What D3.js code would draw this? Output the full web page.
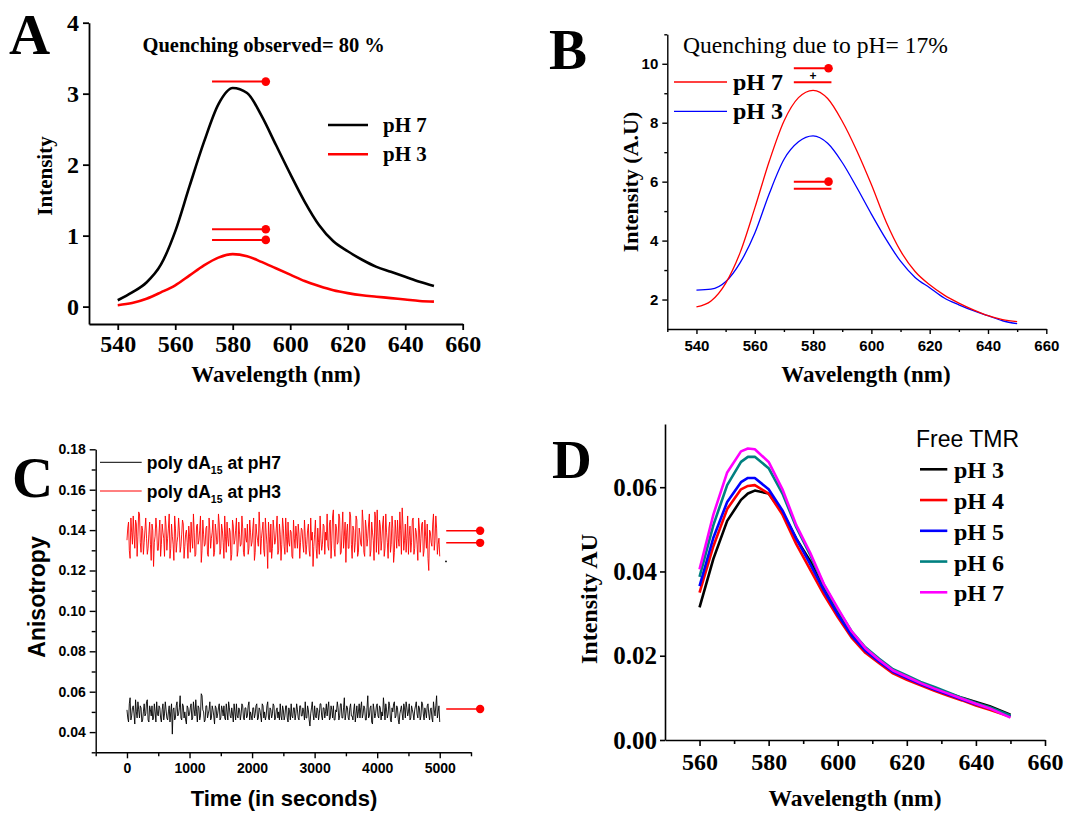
<!DOCTYPE html>
<html><head><meta charset="utf-8">
<script src="https://cdn.jsdelivr.net/npm/d3@7"></script>
<style>body{margin:0;background:#fff}svg{display:block}</style>
</head><body><svg id="c" width="1079" height="813"></svg>
<script>
// ---------- Panel A ----------
const wlA = [540,545,550,555,560,565,570,575,580,585,590,595,600,605,610,615,620,625,630,635,640,645,650];
const aPH7 = [0.09,0.20,0.34,0.59,1.06,1.70,2.32,2.85,3.08,3.01,2.69,2.28,1.87,1.48,1.15,0.92,0.78,0.66,0.56,0.49,0.42,0.35,0.29];
const aPH3 = [0.02,0.05,0.11,0.20,0.30,0.44,0.58,0.69,0.74,0.71,0.63,0.54,0.45,0.36,0.29,0.23,0.19,0.16,0.14,0.12,0.10,0.08,0.07];
const aXTicks = [540,560,580,600,620,640,660];
const aYTicks = [0,1,2,3,4];
const aMarkLevels = [3.17,1.09,0.94];
const aMarkRange = [572.8,591.5];

// ---------- Panel B ----------
const wlB = [540,545,550,555,560,565,570,575,580,585,590,595,600,605,610,615,620,625,630,635,640,645,650];
const bPH7 = [1.75,1.95,2.55,3.60,5.10,6.70,8.05,8.85,9.10,8.82,8.05,7.05,5.90,4.65,3.65,2.95,2.50,2.15,1.88,1.65,1.45,1.32,1.25];
const bPH3 = [2.32,2.35,2.60,3.25,4.25,5.60,6.75,7.35,7.55,7.30,6.65,5.80,4.90,4.05,3.30,2.75,2.40,2.05,1.82,1.62,1.45,1.28,1.18];
const bXTicks = [540,560,580,600,620,640,660];
const bXMinor = [530,550,570,590,610,630,650];
const bYTicks = [2,4,6,8,10];
const bYMinor = [3,5,7,9,11];
const bDotLevels = [9.85,6.0];
const bLineLevels = [9.37,5.76];
const bMarkRange = [573.4,585.3,586.3];

// ---------- Panel C ----------
const tC = [0,25,50,75,100,125,150,175,200,225,250,275,300,325,350,375,400,425,450,475,
500,525,550,575,600,625,650,675,700,725,750,775,800,825,850,875,900,925,950,975,
1000,1025,1050,1075,1100,1125,1150,1175,1200,1225,1250,1275,1300,1325,1350,1375,1400,1425,1450,1475,
1500,1525,1550,1575,1600,1625,1650,1675,1700,1725,1750,1775,1800,1825,1850,1875,1900,1925,1950,1975,
2000,2025,2050,2075,2100,2125,2150,2175,2200,2225,2250,2275,2300,2325,2350,2375,2400,2425,2450,2475,
2500,2525,2550,2575,2600,2625,2650,2675,2700,2725,2750,2775,2800,2825,2850,2875,2900,2925,2950,2975,
3000,3025,3050,3075,3100,3125,3150,3175,3200,3225,3250,3275,3300,3325,3350,3375,3400,3425,3450,3475,
3500,3525,3550,3575,3600,3625,3650,3675,3700,3725,3750,3775,3800,3825,3850,3875,3900,3925,3950,3975,
4000,4025,4050,4075,4100,4125,4150,4175,4200,4225,4250,4275,4300,4325,4350,4375,4400,4425,4450,4475,
4500,4525,4550,4575,4600,4625,4650,4675,4700,4725,4750,4775,4800,4825,4850,4875,4900,4925,4950,4975,5000];
const cPH3 = [0.135,0.144,0.126,0.139,0.147,0.131,0.143,0.137,0.148,0.129,0.140,0.134,0.146,0.128,0.138,0.133,0.143,0.122,0.137,0.141,
0.130,0.145,0.133,0.139,0.127,0.142,0.136,0.148,0.131,0.137,0.125,0.141,0.134,0.146,0.129,0.138,0.143,0.132,0.140,0.126,
0.137,0.144,0.131,0.139,0.128,0.143,0.135,0.147,0.130,0.138,0.133,0.142,0.127,0.140,0.136,0.145,0.129,0.139,0.134,0.143,
0.131,0.140,0.126,0.137,0.144,0.132,0.139,0.128,0.142,0.135,0.146,0.130,0.138,0.133,0.141,0.127,0.136,0.143,0.131,0.139,
0.134,0.146,0.129,0.138,0.132,0.141,0.136,0.144,0.127,0.139,0.121,0.137,0.143,0.131,0.140,0.135,0.147,0.130,0.138,0.133,
0.141,0.128,0.137,0.144,0.132,0.139,0.126,0.136,0.142,0.131,0.138,0.134,0.140,0.129,0.137,0.133,0.143,0.127,0.135,0.122,
0.138,0.131,0.141,0.128,0.136,0.133,0.142,0.139,0.148,0.130,0.145,0.135,0.150,0.127,0.141,0.134,0.146,0.129,0.149,0.137,
0.124,0.143,0.131,0.147,0.126,0.140,0.134,0.145,0.129,0.138,0.132,0.144,0.127,0.141,0.136,0.148,0.130,0.139,0.125,0.146,
0.150,0.128,0.142,0.135,0.147,0.131,0.139,0.126,0.144,0.133,0.141,0.129,0.138,0.145,0.132,0.140,0.151,0.130,0.143,0.136,
0.128,0.142,0.134,0.146,0.131,0.139,0.125,0.141,0.136,0.144,0.130,0.137,0.143,0.120,0.139,0.132,0.148,0.135,0.141,0.133,0.127];
const cPH7 = [0.051,0.045,0.057,0.048,0.053,0.044,0.050,0.055,0.047,0.052,0.046,0.054,0.049,0.056,0.045,0.051,0.053,0.047,0.050,0.055,
0.048,0.052,0.045,0.054,0.049,0.051,0.046,0.053,0.050,0.039,0.052,0.047,0.055,0.049,0.058,0.046,0.053,0.050,0.044,0.052,
0.049,0.054,0.047,0.051,0.056,0.045,0.052,0.048,0.058,0.050,0.046,0.053,0.049,0.055,0.047,0.051,0.044,0.052,0.049,0.054,
0.047,0.051,0.053,0.046,0.050,0.055,0.048,0.052,0.045,0.050,0.054,0.047,0.051,0.049,0.053,0.046,0.052,0.048,0.055,0.050,
0.046,0.052,0.049,0.054,0.047,0.051,0.045,0.053,0.050,0.048,0.055,0.046,0.051,0.049,0.053,0.047,0.052,0.050,0.054,0.046,
0.051,0.048,0.053,0.045,0.050,0.054,0.047,0.052,0.049,0.051,0.046,0.053,0.048,0.050,0.055,0.047,0.051,0.043,0.052,0.049,
0.053,0.047,0.051,0.049,0.054,0.046,0.052,0.050,0.048,0.055,0.047,0.051,0.053,0.046,0.050,0.052,0.048,0.054,0.047,0.057,
0.049,0.052,0.046,0.054,0.048,0.051,0.045,0.053,0.050,0.047,0.055,0.049,0.052,0.046,0.058,0.048,0.053,0.044,0.051,0.049,
0.054,0.047,0.052,0.050,0.057,0.046,0.051,0.049,0.053,0.045,0.050,0.055,0.048,0.052,0.044,0.051,0.049,0.054,0.047,0.052,
0.050,0.046,0.053,0.049,0.051,0.055,0.047,0.052,0.048,0.054,0.046,0.050,0.053,0.049,0.051,0.047,0.055,0.048,0.058,0.050,0.045];
// intermediate readings (between the samples above)
const tC2 = [12.5,37.5,62.5,87.5,112.5,137.5,162.5,187.5,212.5,237.5,262.5,287.5,312.5,337.5,362.5,387.5,412.5,437.5,462.5,487.5,
512.5,537.5,562.5,587.5,612.5,637.5,662.5,687.5,712.5,737.5,762.5,787.5,812.5,837.5,862.5,887.5,912.5,937.5,962.5,987.5,
1012.5,1037.5,1062.5,1087.5,1112.5,1137.5,1162.5,1187.5,1212.5,1237.5,1262.5,1287.5,1312.5,1337.5,1362.5,1387.5,1412.5,1437.5,1462.5,1487.5,
1512.5,1537.5,1562.5,1587.5,1612.5,1637.5,1662.5,1687.5,1712.5,1737.5,1762.5,1787.5,1812.5,1837.5,1862.5,1887.5,1912.5,1937.5,1962.5,1987.5,
2012.5,2037.5,2062.5,2087.5,2112.5,2137.5,2162.5,2187.5,2212.5,2237.5,2262.5,2287.5,2312.5,2337.5,2362.5,2387.5,2412.5,2437.5,2462.5,2487.5,
2512.5,2537.5,2562.5,2587.5,2612.5,2637.5,2662.5,2687.5,2712.5,2737.5,2762.5,2787.5,2812.5,2837.5,2862.5,2887.5,2912.5,2937.5,2962.5,2987.5,
3012.5,3037.5,3062.5,3087.5,3112.5,3137.5,3162.5,3187.5,3212.5,3237.5,3262.5,3287.5,3312.5,3337.5,3362.5,3387.5,3412.5,3437.5,3462.5,3487.5,
3512.5,3537.5,3562.5,3587.5,3612.5,3637.5,3662.5,3687.5,3712.5,3737.5,3762.5,3787.5,3812.5,3837.5,3862.5,3887.5,3912.5,3937.5,3962.5,3987.5,
4012.5,4037.5,4062.5,4087.5,4112.5,4137.5,4162.5,4187.5,4212.5,4237.5,4262.5,4287.5,4312.5,4337.5,4362.5,4387.5,4412.5,4437.5,4462.5,4487.5,
4512.5,4537.5,4562.5,4587.5,4612.5,4637.5,4662.5,4687.5,4712.5,4737.5,4762.5,4787.5,4812.5,4837.5,4862.5,4887.5,4912.5,4937.5,4962.5,4987.5];
const cPH3b = [0.141,0.130,0.146,0.133,0.138,0.145,0.127,0.149,0.134,0.142,0.128,0.140,0.136,0.131,0.144,0.125,0.140,0.134,0.146,0.130,
0.139,0.127,0.143,0.136,0.147,0.130,0.141,0.126,0.143,0.133,0.147,0.129,0.137,0.140,0.132,0.145,0.126,0.138,0.134,0.142,
0.129,0.136,0.148,0.127,0.142,0.133,0.140,0.124,0.145,0.132,0.141,0.128,0.146,0.131,0.139,0.127,0.143,0.133,0.148,0.128,
0.143,0.134,0.147,0.129,0.136,0.141,0.125,0.145,0.133,0.140,0.127,0.144,0.132,0.147,0.129,0.141,0.134,0.128,0.145,0.132,
0.141,0.125,0.143,0.135,0.149,0.128,0.140,0.130,0.146,0.133,0.144,0.129,0.126,0.145,0.133,0.141,0.128,0.143,0.125,0.146,
0.132,0.146,0.129,0.134,0.140,0.127,0.145,0.131,0.137,0.143,0.126,0.141,0.133,0.145,0.128,0.140,0.130,0.146,0.139,0.132,
0.145,0.126,0.134,0.147,0.130,0.143,0.128,0.135,0.132,0.143,0.126,0.147,0.131,0.143,0.133,0.148,0.128,0.140,0.131,0.144,
0.139,0.131,0.149,0.133,0.142,0.129,0.147,0.127,0.141,0.133,0.150,0.129,0.145,0.132,0.143,0.127,0.144,0.135,0.149,0.129,
0.137,0.145,0.130,0.143,0.127,0.148,0.134,0.141,0.129,0.147,0.124,0.145,0.131,0.136,0.149,0.128,0.142,0.135,0.129,0.147,
0.137,0.129,0.145,0.128,0.141,0.133,0.146,0.129,0.143,0.127,0.145,0.131,0.126,0.140,0.134,0.143,0.130,0.147,0.128,0.136];
const cPH7b = [0.047,0.054,0.046,0.052,0.049,0.056,0.047,0.051,0.053,0.045,0.050,0.048,0.055,0.046,0.053,0.048,0.046,0.054,0.045,0.049,
0.053,0.047,0.051,0.046,0.055,0.047,0.050,0.045,0.054,0.051,0.046,0.053,0.048,0.052,0.047,0.054,0.047,0.046,0.053,0.048,
0.052,0.046,0.055,0.048,0.050,0.053,0.046,0.059,0.051,0.045,0.053,0.047,0.051,0.046,0.053,0.048,0.053,0.047,0.052,0.046,
0.053,0.048,0.047,0.054,0.046,0.052,0.047,0.049,0.054,0.046,0.048,0.052,0.046,0.054,0.047,0.052,0.047,0.053,0.046,0.048,
0.052,0.047,0.053,0.046,0.052,0.048,0.054,0.047,0.046,0.053,0.047,0.052,0.047,0.054,0.046,0.051,0.047,0.046,0.048,0.053,
0.046,0.053,0.047,0.052,0.046,0.048,0.052,0.046,0.054,0.047,0.053,0.048,0.052,0.046,0.047,0.053,0.046,0.049,0.055,0.046,
0.048,0.052,0.046,0.054,0.048,0.052,0.047,0.054,0.052,0.046,0.053,0.047,0.046,0.051,0.055,0.046,0.054,0.047,0.052,0.046,
0.053,0.047,0.052,0.048,0.046,0.054,0.049,0.047,0.054,0.052,0.047,0.053,0.046,0.052,0.047,0.052,0.045,0.054,0.047,0.053,
0.048,0.053,0.046,0.048,0.052,0.054,0.047,0.055,0.046,0.052,0.054,0.047,0.053,0.046,0.049,0.053,0.046,0.052,0.055,0.048,
0.054,0.047,0.051,0.046,0.053,0.049,0.053,0.046,0.055,0.049,0.052,0.047,0.054,0.046,0.052,0.045,0.051,0.053,0.047,0.053];
const cXTicks = [0,1000,2000,3000,4000,5000];
const cXMinor = [-500,500,1500,2500,3500,4500,5500];
const cYTicks = [0.04,0.06,0.08,0.10,0.12,0.14,0.16,0.18];
const cYMinor = [0.03,0.05,0.07,0.09,0.11,0.13,0.15,0.17];
const cMarkLevels = [0.1397,0.1337,0.0514];
const cMarkRange = [5104,5646];
const cStrayPoint = [5100,0.1245];

// ---------- Panel D ----------
const wlD = [560,564,568,572,574,576,580,584,588,592,596,600,604,608,612,616,620,624,628,632,636,640,644,650];
const dPH3 = [0.0315,0.0430,0.0520,0.0570,0.0585,0.0592,0.0585,0.0540,0.0478,0.0425,0.0358,0.0302,0.0252,0.0214,0.0188,0.0163,0.0148,0.0134,0.0123,0.0111,0.0100,0.0090,0.0080,0.0060];
const dPH4 = [0.0350,0.0460,0.0548,0.0595,0.0603,0.0605,0.0585,0.0535,0.0465,0.0405,0.0345,0.0292,0.0243,0.0207,0.0182,0.0158,0.0143,0.0130,0.0117,0.0105,0.0094,0.0082,0.0072,0.0055];
const dPH5 = [0.0365,0.0480,0.0565,0.0612,0.0622,0.0622,0.0595,0.0545,0.0478,0.0418,0.0355,0.0298,0.0248,0.0212,0.0186,0.0162,0.0147,0.0133,0.0120,0.0108,0.0096,0.0085,0.0075,0.0056];
const dPH6 = [0.0387,0.0510,0.0605,0.0660,0.0672,0.0672,0.0645,0.0585,0.0505,0.0440,0.0368,0.0310,0.0258,0.0220,0.0193,0.0168,0.0153,0.0138,0.0126,0.0113,0.0100,0.0088,0.0078,0.0058];
const dPH7 = [0.0405,0.0535,0.0635,0.0685,0.0692,0.0690,0.0660,0.0595,0.0510,0.0445,0.0370,0.0313,0.0258,0.0218,0.0190,0.0165,0.0150,0.0135,0.0122,0.0110,0.0098,0.0086,0.0075,0.0053];
const dNames = ["pH 3","pH 4","pH 5","pH 6","pH 7"];
const dColors = ["#000000","#ff0000","#0000ff","#008080","#ff00ff"];
const dXTicks = [560,580,600,620,640,660];
const dXMinor = [570,590,610,630,650];
const dYTicks = [0,0.02,0.04,0.06];

// ================= drawing =================
const svg = d3.select("#c");
const SERIF = "'Liberation Serif','Times New Roman',serif";
const SANS = "'Liberation Sans',Arial,sans-serif";

function styleAxis(g, font, size, weight, sw){
  g.select(".domain").attr("stroke","#000").attr("stroke-width",sw);
  g.selectAll(".tick line").attr("stroke","#000").attr("stroke-width",sw);
  g.selectAll(".tick text").attr("font-family",font).attr("font-size",size)
    .attr("font-weight",weight).attr("fill","#000");
}
function minor(g, axisGen, sw){
  g.call(axisGen); g.select(".domain").remove(); g.selectAll("text").remove();
  g.selectAll("line").attr("stroke","#000").attr("stroke-width",sw);
}
function txt(x,y,s,font,size,weight,anchor,rot){
  const t = svg.append("text").attr("x",x).attr("y",y).text(s)
    .attr("font-family",font).attr("font-size",size).attr("font-weight",weight||"normal")
    .attr("text-anchor",anchor||"start").attr("fill","#000");
  if(rot) t.attr("transform",`rotate(${rot},${x},${y})`);
  return t;
}

// ----- A -----
{
  const x = d3.scaleLinear().domain([530,660]).range([89,462.7]);
  const y = d3.scaleLinear().domain([-0.245,4]).range([324,22.7]);
  const gx = svg.append("g").attr("transform","translate(0,324)")
    .call(d3.axisBottom(x).tickValues(aXTicks).tickSize(6).tickSizeOuter(0).tickPadding(5).tickFormat(d3.format("d")));
  styleAxis(gx, SERIF, 24, "bold", 1.8);
  const gy = svg.append("g").attr("transform","translate(89,0)")
    .call(d3.axisLeft(y).tickValues(aYTicks).tickSize(6).tickSizeOuter(0).tickPadding(4).tickFormat(d3.format("d")));
  styleAxis(gy, SERIF, 24, "bold", 1.8);
  const line = d3.line().x((d,i)=>x(wlA[i])).y(d=>y(d)).curve(d3.curveMonotoneX);
  svg.append("path").attr("d",line(aPH3)).attr("fill","none").attr("stroke","#ff0000").attr("stroke-width",2.6);
  svg.append("path").attr("d",line(aPH7)).attr("fill","none").attr("stroke","#000").attr("stroke-width",2.6);
  aMarkLevels.forEach(v=>{
    svg.append("line").attr("x1",x(aMarkRange[0])).attr("x2",x(aMarkRange[1])).attr("y1",y(v)).attr("y2",y(v))
      .attr("stroke","#ff0000").attr("stroke-width",2);
    svg.append("circle").attr("cx",x(aMarkRange[1])).attr("cy",y(v)).attr("r",4.3).attr("fill","#ff0000");
  });
  [["pH 7","#000",125],["pH 3","#ff0000",154.3]].forEach(([n,c,yy])=>{
    svg.append("line").attr("x1",328).attr("x2",368).attr("y1",yy).attr("y2",yy).attr("stroke",c).attr("stroke-width",2.6);
    txt(383,yy+7,n,SERIF,21,"bold");
  });
  txt(142.5,52,"Quenching observed= 80 %",SERIF,20.5,"bold");
  txt(9,54,"A",SERIF,57,"bold");
  txt(52,176,"Intensity",SERIF,21,"bold","middle",-90);
  txt(276,382,"Wavelength (nm)",SERIF,23,"bold","middle");
}

// ----- B -----
{
  const x = d3.scaleLinear().domain([530,660]).range([667.3,1046.3]);
  const y = d3.scaleLinear().domain([1,11]).range([329,34.3]);
  const gx = svg.append("g").attr("transform","translate(0,329)")
    .call(d3.axisBottom(x).tickValues(bXTicks).tickSize(5).tickSizeOuter(0).tickPadding(6).tickFormat(d3.format("d")));
  styleAxis(gx, SANS, 15, "bold", 1.4);
  minor(svg.append("g").attr("transform","translate(0,329)"), d3.axisBottom(x).tickValues(bXMinor).tickSize(3), 1.4);
  const gy = svg.append("g").attr("transform","translate(667.3,0)")
    .call(d3.axisLeft(y).tickValues(bYTicks).tickSize(5).tickSizeOuter(0).tickPadding(4).tickFormat(d3.format("d")));
  styleAxis(gy, SANS, 15, "bold", 1.4);
  minor(svg.append("g").attr("transform","translate(667.3,0)"), d3.axisLeft(y).tickValues(bYMinor).tickSize(3), 1.4);
  const line = d3.line().x((d,i)=>x(wlB[i])).y(d=>y(d)).curve(d3.curveMonotoneX);
  svg.append("path").attr("d",line(bPH3)).attr("fill","none").attr("stroke","#0000ff").attr("stroke-width",1.3);
  svg.append("path").attr("d",line(bPH7)).attr("fill","none").attr("stroke","#ff0000").attr("stroke-width",1.3);
  bDotLevels.forEach(v=>{
    svg.append("line").attr("x1",x(bMarkRange[0])).attr("x2",x(bMarkRange[1])).attr("y1",y(v)).attr("y2",y(v))
      .attr("stroke","#ff0000").attr("stroke-width",2);
    svg.append("circle").attr("cx",x(bMarkRange[1])).attr("cy",y(v)).attr("r",4.3).attr("fill","#ff0000");
  });
  bLineLevels.forEach(v=>{
    svg.append("line").attr("x1",x(bMarkRange[0])).attr("x2",x(bMarkRange[2])).attr("y1",y(v)).attr("y2",y(v))
      .attr("stroke","#ff0000").attr("stroke-width",2);
  });
  txt(x(580),y(bLineLevels[0])-2,"+",SANS,12,"bold","middle");
  [["pH 7","#ff0000",82],["pH 3","#0000ff",111.3]].forEach(([n,c,yy])=>{
    svg.append("line").attr("x1",674).attr("x2",727).attr("y1",yy).attr("y2",yy).attr("stroke",c).attr("stroke-width",1.3);
    txt(733,yy+8,n,SERIF,24,"bold");
  });
  txt(683,53,"Quenching due to pH= 17%",SERIF,23.6,"normal");
  txt(549,69,"B",SERIF,57,"bold");
  txt(638,182,"Intensity (A.U)",SERIF,22,"bold","middle",-90);
  txt(866,382,"Wavelength (nm)",SERIF,23,"bold","middle");
}

// ----- C -----
{
  const x = d3.scaleLinear().domain([-500,5500]).range([95.7,471]);
  const y = d3.scaleLinear().domain([0.03,0.18]).range([752.3,449.3]);
  const gx = svg.append("g").attr("transform","translate(0,752.3)")
    .call(d3.axisBottom(x).tickValues(cXTicks).tickSize(6).tickSizeOuter(0).tickPadding(5).tickFormat(d3.format("d")));
  styleAxis(gx, SANS, 14, "bold", 1.4);
  minor(svg.append("g").attr("transform","translate(0,752.3)"), d3.axisBottom(x).tickValues(cXMinor).tickSize(4), 1.4);
  const gy = svg.append("g").attr("transform","translate(95.7,0)")
    .call(d3.axisLeft(y).tickValues(cYTicks).tickSize(6).tickSizeOuter(0).tickPadding(4).tickFormat(d3.format(".2f")));
  styleAxis(gy, SANS, 14, "bold", 1.4);
  minor(svg.append("g").attr("transform","translate(95.7,0)"), d3.axisLeft(y).tickValues(cYMinor).tickSize(4), 1.4);
  const merge = (ta,va,tb,vb)=> ta.map((t,i)=>[t,va[i]]).concat(tb.map((t,i)=>[t,vb[i]])).sort((p,q)=>p[0]-q[0]);
  const red = merge(tC,cPH3,tC2,cPH3b), blk = merge(tC,cPH7,tC2,cPH7b);
  const line = d3.line().x(d=>x(d[0])).y(d=>y(d[1]));
  svg.append("path").attr("d",line(red)).attr("fill","none").attr("stroke","#ff0000").attr("stroke-width",0.9);
  svg.append("path").attr("d",line(blk)).attr("fill","none").attr("stroke","#000").attr("stroke-width",0.9);
  svg.append("circle").attr("cx",x(cStrayPoint[0])).attr("cy",y(cStrayPoint[1])).attr("r",0.9).attr("fill","#000");
  cMarkLevels.forEach(v=>{
    svg.append("line").attr("x1",x(cMarkRange[0])).attr("x2",x(cMarkRange[1])).attr("y1",y(v)).attr("y2",y(v))
      .attr("stroke","#ff0000").attr("stroke-width",1.5);
    svg.append("circle").attr("cx",x(cMarkRange[1])).attr("cy",y(v)).attr("r",4.2).attr("fill","#ff0000");
  });
  [["pH7","#000",462.3],["pH3","#ff0000",491]].forEach(([n,c,yy])=>{
    svg.append("line").attr("x1",100).attr("x2",141.7).attr("y1",yy).attr("y2",yy).attr("stroke",c).attr("stroke-width",1);
    const t = txt(146.7,yy+7,"",SANS,17.5,"bold");
    t.append("tspan").text("poly dA");
    t.append("tspan").text("15").attr("font-size",10.5).attr("dy",5);
    t.append("tspan").text(" at "+n).attr("dy",-5);
  });
  txt(12,497,"C",SERIF,57,"bold");
  txt(45,597,"Anisotropy",SANS,23,"bold","middle",-90);
  txt(284,806,"Time (in seconds)",SANS,22,"bold","middle");
}

// ----- D -----
{
  const x = d3.scaleLinear().domain([550,660]).range([665,1045]);
  const y = d3.scaleLinear().domain([0,0.075]).range([740,424]);
  const gx = svg.append("g").attr("transform","translate(0,740)")
    .call(d3.axisBottom(x).tickValues(dXTicks).tickSize(6).tickSizeOuter(0).tickPadding(7).tickFormat(d3.format("d")));
  styleAxis(gx, SERIF, 24, "bold", 1.6);
  minor(svg.append("g").attr("transform","translate(0,740)"), d3.axisBottom(x).tickValues(dXMinor).tickSize(4), 1.6);
  const gy = svg.append("g").attr("transform","translate(665,0)")
    .call(d3.axisLeft(y).tickValues(dYTicks).tickSize(5).tickSizeOuter(0).tickPadding(3).tickFormat(d3.format(".2f")));
  styleAxis(gy, SERIF, 25, "bold", 1.6);
  const series = [dPH3,dPH4,dPH5,dPH6,dPH7];
  const line = d3.line().x((d,i)=>x(wlD[i])).y(d=>y(d));
  series.forEach((s,k)=>{
    svg.append("path").attr("d",line(s)).attr("fill","none").attr("stroke",dColors[k]).attr("stroke-width",2.6)
      .attr("stroke-linejoin","round");
  });
  txt(916,446.7,"Free TMR",SANS,23,"normal");
  const ly = d3.scalePoint().domain(dNames).range([469.3,592.3]);
  dNames.forEach((n,k)=>{
    svg.append("line").attr("x1",920).attr("x2",947.3).attr("y1",ly(n)).attr("y2",ly(n)).attr("stroke",dColors[k]).attr("stroke-width",2.6);
    txt(954,ly(n)+9,n,SERIF,24,"bold");
  });
  txt(552,478,"D",SERIF,55,"bold");
  txt(597,599,"Intensity AU",SERIF,24,"bold","middle",-90);
  txt(855,806,"Wavelength (nm)",SERIF,23.5,"bold","middle");
}
</script></body></html>
